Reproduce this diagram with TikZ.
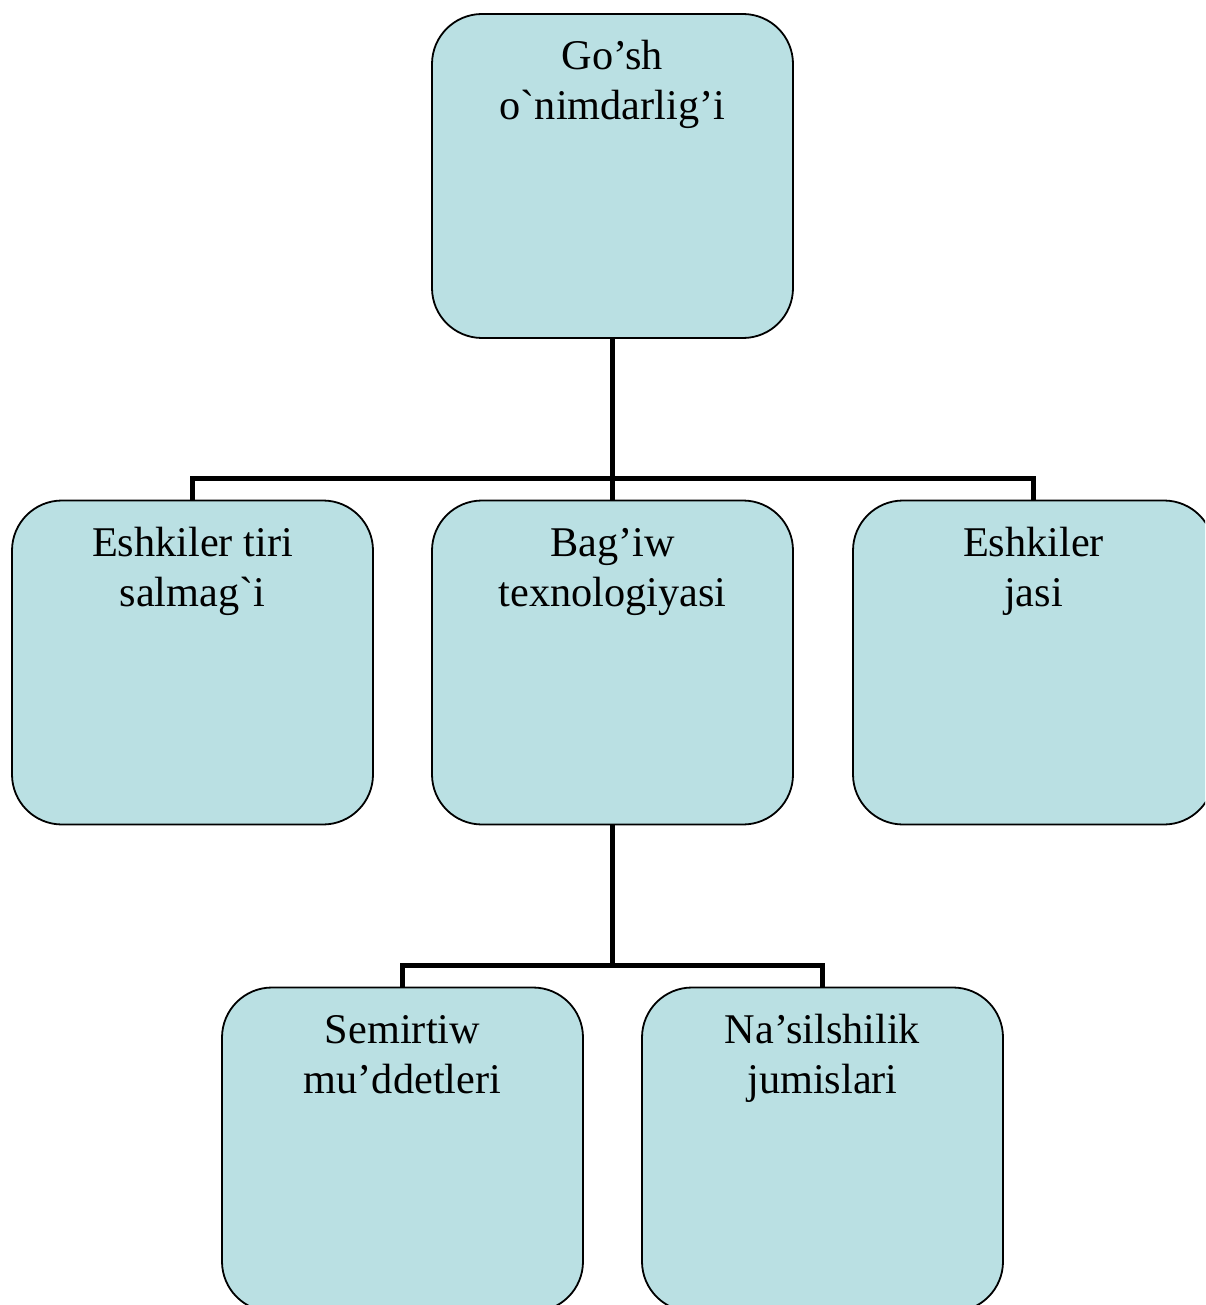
\documentclass[tikz,border=0pt]{standalone}
\usepackage{fontspec}
\setmainfont{Liberation Serif}[Ligatures=TeXOff]
\definecolor{boxfill}{RGB}{186,224,227}
\tikzset{
  orgbox/.style={draw=black, fill=boxfill, line width=1.8pt, rounded corners=50pt,
    minimum width=361pt, minimum height=324pt, inner sep=0pt},
  conn/.style={draw=black, line width=5pt},
}
\newcommand{\boxtext}[1]{\parbox[c][324pt][t]{340pt}{\centering\fontsize{42.3}{50}\selectfont\rule{0pt}{56pt}#1}}
\begin{document}
\begin{tikzpicture}[x=1pt,y=-1pt]
\useasboundingbox (0,0) rectangle (1205,1305);
\begin{scope}
\clip (0,0) rectangle (1205,1305);
\coordinate (bus1) at (612.5,478);
\coordinate (bus2) at (612.5,965);
\node[orgbox] (top) at (612.5,176) {\boxtext{Go’sh\\o`nimdarlig’i}};
\node[orgbox] (m1) at (192.5,662.5) {\boxtext{Eshkiler tiri\\salmag`i}};
\node[orgbox] (m2) at (612.5,662.5) {\boxtext{Bag’iw\\texnologiyasi}};
\node[orgbox] (m3) at (1033.5,662.5) {\boxtext{Eshkiler\\jasi}};
\node[orgbox] (b1) at (402.5,1149.5) {\boxtext{Semirtiw\\mu’ddetleri}};
\node[orgbox] (b2) at (822.5,1149.5) {\boxtext{Na’silshilik\\jumislari}};
\draw[conn] (top.south) -- (bus1);
\draw[conn] (m1.north) |- (bus1) -| (m3.north);
\draw[conn] (bus1) -- (m2.north);
\draw[conn] (m2.south) -- (bus2);
\draw[conn] (b1.north) |- (bus2) -| (b2.north);
\end{scope}
\end{tikzpicture}
\end{document}
